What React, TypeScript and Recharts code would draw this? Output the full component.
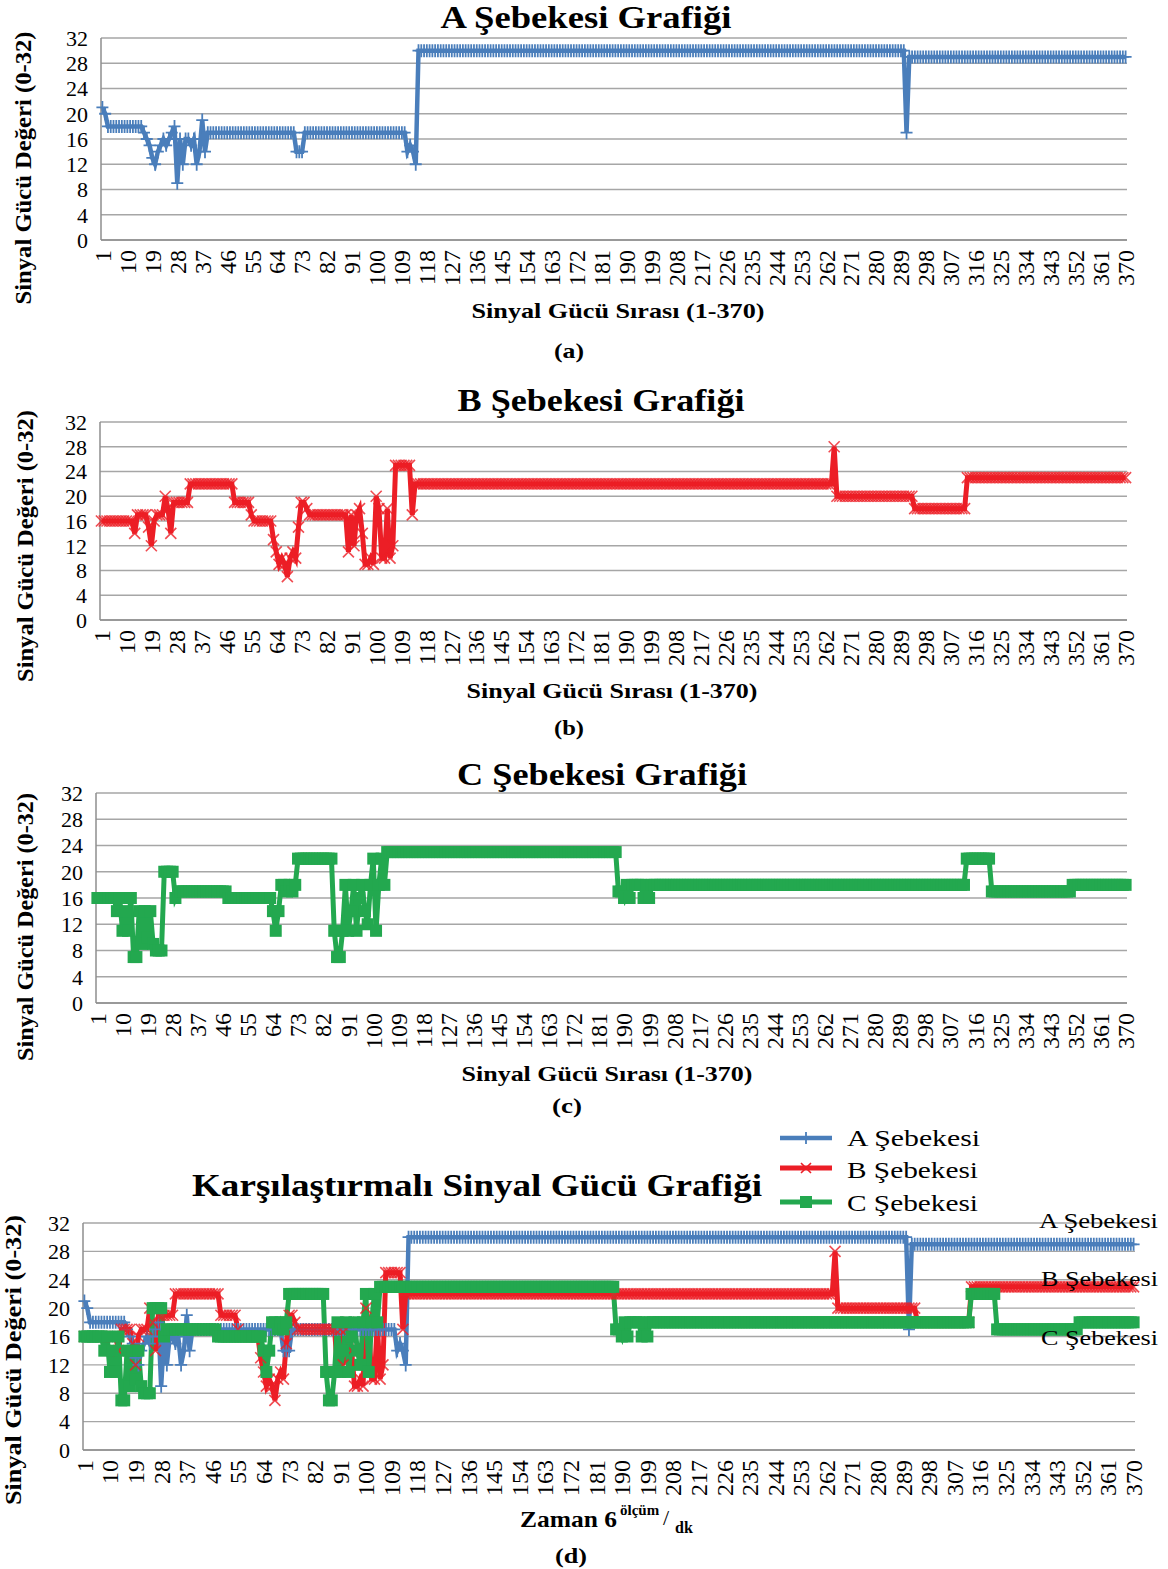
import React from "react";
import { LineChart, Line, XAxis, YAxis, CartesianGrid } from "recharts";

const aRuns: [number, number][] = [
  [21, 1], [20, 1], [18, 13], [17, 1], [16, 1], [15, 1], [13, 1], [12, 1], [14, 1], [15, 1],
  [16, 1], [15, 1], [16, 1], [17, 1], [18, 1], [9, 1], [16, 1], [12, 1], [16, 2], [15, 1],
  [16, 1], [12, 1], [14, 1], [19, 1], [14, 1], [17, 32], [14, 3], [17, 37], [14, 1], [15, 1],
  [14, 1], [12, 1], [30, 176], [17, 1], [29, 79],
];

const bRuns: [number, number][] = [
  [16, 12], [14, 1], [17, 4], [15, 1], [12, 1], [16, 1], [17, 3], [20, 1], [18, 1], [14, 1],
  [19, 6], [22, 16], [19, 6], [17, 1], [16, 7], [13, 1], [11, 1], [9, 1], [10, 1], [9, 1],
  [7, 1], [10, 1], [11, 1], [10, 1], [15, 1], [19, 2], [18, 1], [17, 14], [11, 1], [17, 1],
  [12, 1], [17, 1], [18, 1], [14, 1], [9, 2], [10, 1], [9, 1], [20, 1], [18, 1], [10, 2],
  [18, 1], [10, 1], [12, 1], [25, 6], [17, 1], [22, 151], [28, 1], [20, 28], [18, 19], [23, 58],
];

const cRuns: [number, number][] = [
  [16, 7], [14, 1], [16, 1], [11, 1], [14, 1], [11, 1], [16, 1], [7, 2], [14, 1], [9, 1],
  [14, 1], [10, 1], [14, 1], [9, 1], [8, 3], [20, 4], [16, 1], [17, 18], [16, 16], [14, 1],
  [11, 1], [14, 1], [18, 2], [17, 1], [18, 1], [17, 1], [18, 1], [22, 13], [11, 1], [7, 2],
  [11, 1], [18, 1], [11, 1], [14, 1], [18, 1], [11, 1], [16, 1], [18, 1], [14, 1], [12, 1],
  [18, 1], [22, 1], [11, 1], [18, 1], [22, 1], [18, 1], [23, 83], [17, 2], [16, 1], [18, 1],
  [16, 1], [18, 4], [16, 1], [18, 1], [16, 1], [18, 113], [22, 9], [17, 29], [18, 20],
];

const yTicks = [0, 4, 8, 12, 16, 20, 24, 28, 32];

const BLUE = "#4a7ebb";
const RED = "#ec1e26";
const GREEN = "#23a84f";
const FONT = "'Liberation Serif', 'Times New Roman', serif";

function expand(runs: [number, number][]) {
  const out: number[] = [];
  for (const [v, n] of runs) for (let i = 0; i < n; i++) out.push(v);
  return out;
}

const aVals = expand(aRuns);
const bVals = expand(bRuns);
const cVals = expand(cRuns);
const rows = aVals.map((a, i) => ({ idx: String(i + 1), a, b: bVals[i], c: cVals[i] }));

const plusDot = (p: any) => (
  <path
    key={"a" + p.index}
    d={`M${p.cx - 6},${p.cy}H${p.cx + 6}M${p.cx},${p.cy - 6.5}V${p.cy + 6.5}`}
    stroke={BLUE}
    strokeWidth={1.8}
  />
);
const crossDot = (p: any) => (
  <path
    key={"b" + p.index}
    d={`M${p.cx - 5.5},${p.cy - 5.5}L${p.cx + 5.5},${p.cy + 5.5}M${p.cx + 5.5},${p.cy - 5.5}L${p.cx - 5.5},${p.cy + 5.5}`}
    stroke={RED}
    strokeOpacity={0.8}
    strokeWidth={1.6}
  />
);
const squareDot = (p: any) => (
  <rect key={"c" + p.index} x={p.cx - 6} y={p.cy - 6} width={12} height={12} fill={GREEN} />
);

function XTick(props: any) {
  const { x, y, payload } = props;
  return (
    <text x={x} y={y} transform={`rotate(-90 ${x} ${y})`} textAnchor="end" dy="0.35em" fontSize={24} fontFamily={FONT} fill="#000">
      {payload.value}
    </text>
  );
}

const axisStyle = { stroke: "#8e8e8e", strokeWidth: 1.5 };
const TOP = 20;

function Panel({ plotTop, plotBottom, plotLeft, plotRight, keys }: {
  plotTop: number; plotBottom: number; plotLeft: number; plotRight: number; keys: string[];
}) {
  const height = TOP + (plotBottom - plotTop) + 60;
  return (
    <div style={{ position: "absolute", left: 0, top: plotTop - TOP, width: 1168, height }}>
      <LineChart width={1168} height={height} data={rows} margin={{ top: TOP, right: 1168 - plotRight, bottom: 0, left: 0 }}>
        <CartesianGrid vertical={false} stroke="#a6a6a6" strokeWidth={1.3} />
        <XAxis dataKey="idx" interval={8} tickLine={false} axisLine={axisStyle} tick={<XTick />} tickMargin={4} height={60} padding={{ left: 1.4, right: 1.4 }} />
        <YAxis domain={[0, 32]} ticks={yTicks} interval={0} width={plotLeft} tickLine={false} axisLine={axisStyle} tick={{ fill: "#000", fontSize: 22, fontFamily: FONT }} tickMargin={7} />
        {keys.includes("a") && <Line dataKey="a" type="linear" stroke={BLUE} strokeWidth={4.5} dot={plusDot} activeDot={false} isAnimationActive={false} />}
        {keys.includes("b") && <Line dataKey="b" type="linear" stroke={RED} strokeWidth={5} dot={crossDot} activeDot={false} isAnimationActive={false} />}
        {keys.includes("c") && <Line dataKey="c" type="linear" stroke={GREEN} strokeWidth={5} dot={squareDot} activeDot={false} isAnimationActive={false} />}
      </LineChart>
    </div>
  );
}

function YLabel({ x, y, len }: { x: number; y: number; len: number }) {
  return (
    <text transform={`translate(${x},${y}) rotate(-90)`} textAnchor="middle" dy="0.35em" fontSize={24} fontWeight="bold" textLength={len} lengthAdjust="spacingAndGlyphs">
      Sinyal Gücü Değeri (0-32)
    </text>
  );
}

function T({ x, y, len, size, bold, children }: any) {
  return (
    <text x={x} y={y} textAnchor="middle" fontSize={size} fontWeight={bold ? "bold" : "normal"} textLength={len} lengthAdjust="spacingAndGlyphs">
      {children}
    </text>
  );
}

export default function App() {
  return (
    <div style={{ position: "absolute", left: 0, top: 0, width: 1168, height: 1569, background: "#fff", fontFamily: FONT }}>
      <Panel plotTop={38} plotBottom={240} plotLeft={101} plotRight={1127} keys={["a"]} />
      <Panel plotTop={422} plotBottom={620} plotLeft={100} plotRight={1127} keys={["b"]} />
      <Panel plotTop={793} plotBottom={1003} plotLeft={96} plotRight={1127} keys={["c"]} />
      <Panel plotTop={1223} plotBottom={1450} plotLeft={83} plotRight={1135} keys={["a", "b", "c"]} />
      <svg width={1168} height={1569} fontFamily={FONT} style={{ position: "absolute", left: 0, top: 0, pointerEvents: "none" }}>
        <T x={586} y={28} len={291} size={31} bold>A Şebekesi Grafiği</T>
        <YLabel x={23} y={168} len={273} />
        <T x={618} y={318} len={293} size={22} bold>Sinyal Gücü Sırası (1-370)</T>
        <T x={569} y={358} len={30} size={22} bold>(a)</T>

        <T x={601} y={411} len={287} size={31} bold>B Şebekesi Grafiği</T>
        <YLabel x={25} y={546} len={272} />
        <T x={612} y={698} len={291} size={22} bold>Sinyal Gücü Sırası (1-370)</T>
        <T x={569} y={735} len={30} size={22} bold>(b)</T>

        <T x={602} y={785} len={290} size={31} bold>C Şebekesi Grafiği</T>
        <YLabel x={25} y={927} len={268} />
        <T x={607} y={1081} len={291} size={22} bold>Sinyal Gücü Sırası (1-370)</T>
        <T x={567} y={1113} len={30} size={22} bold>(c)</T>

        <T x={477} y={1196} len={570} size={31} bold>Karşılaştırmalı Sinyal Gücü Grafiği</T>
        <YLabel x={13} y={1360} len={290} />
        <text x={520} y={1527} fontSize={24} fontWeight="bold" textLength={97} lengthAdjust="spacingAndGlyphs">Zaman 6</text>
        <text x={620} y={1515} fontSize={15} fontWeight="bold">ölçüm</text>
        <text x={663} y={1525} fontSize={22}>/</text>
        <text x={675} y={1533} fontSize={16} fontWeight="bold">dk</text>
        <T x={571} y={1563} len={32} size={22} bold>(d)</T>

        {/* legend */}
        <line x1={780} y1={1138} x2={832} y2={1138} stroke={BLUE} strokeWidth={4.5} />
        <path d="M800,1138H812M806,1132V1144" stroke={BLUE} strokeWidth={1.8} />
        <text x={847} y={1146} fontSize={24} textLength={133} lengthAdjust="spacingAndGlyphs">A Şebekesi</text>
        <line x1={780} y1={1168} x2={832} y2={1168} stroke={RED} strokeWidth={5} />
        <path d="M801,1163L811,1173M811,1163L801,1173" stroke={RED} strokeWidth={1.6} />
        <text x={847} y={1178} fontSize={24} textLength={131} lengthAdjust="spacingAndGlyphs">B Şebekesi</text>
        <line x1={780} y1={1202} x2={832} y2={1202} stroke={GREEN} strokeWidth={5} />
        <rect x={800} y={1196} width={12} height={12} fill={GREEN} />
        <text x={847} y={1211} fontSize={24} textLength={131} lengthAdjust="spacingAndGlyphs">C Şebekesi</text>

        {/* labels at the right end of panel d */}
        <text x={1039} y={1228} fontSize={22} textLength={119} lengthAdjust="spacingAndGlyphs">A Şebekesi</text>
        <text x={1041} y={1286} fontSize={22} textLength={117} lengthAdjust="spacingAndGlyphs">B Şebekesi</text>
        <text x={1041} y={1345} fontSize={22} textLength={117} lengthAdjust="spacingAndGlyphs">C Şebekesi</text>
      </svg>
    </div>
  );
}
